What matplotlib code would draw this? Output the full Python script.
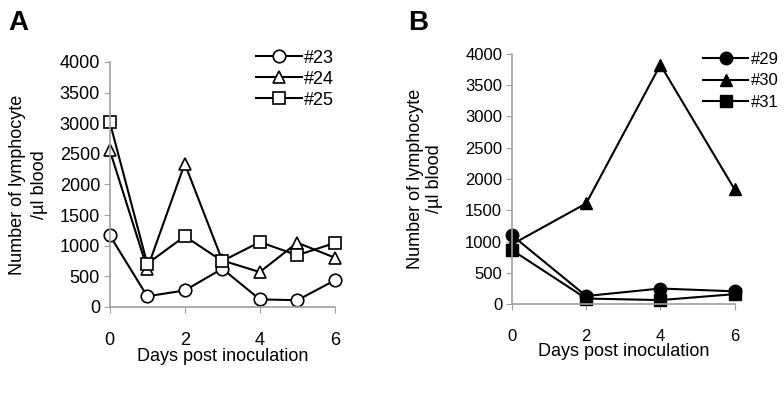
import matplotlib.pyplot as plt

plt.rcParams['font.family'] = ['Liberation Sans', 'DejaVu Sans']

# panel A
days_a = [0, 1, 2, 3, 4, 5, 6]
m23 = [1170, 175, 270, 625, 125, 110, 435]
m24 = [2560, 625, 2340, 760, 570, 1050, 805]
m25 = [3020, 705, 1155, 750, 1060, 845, 1045]

# panel B
days_b = [0, 2, 4, 6]
m29 = [1100, 130, 250, 205]
m30 = [955, 1610, 3825, 1835]
m31 = [865, 90, 65, 160]

ylabel = 'Number of lymphocyte\n/\u00b5l blood'


def style_axes(ax, label_x, fs, lsp):
    for s in ['top', 'right']:
        ax.spines[s].set_visible(False)
    for s in ['left', 'bottom']:
        ax.spines[s].set_color('#a0a0a0')
        ax.spines[s].set_linewidth(1.2)
    ax.tick_params(axis='both', colors='#a0a0a0', labelcolor='black', labelsize=fs, length=4)
    ax.tick_params(axis='x', pad=14)
    ax.tick_params(axis='y', pad=3)
    ax.set_ylim(0, 4000)
    ax.set_xlim(0, 6)
    ax.set_yticks(range(0, 4001, 500))
    ax.set_xticks([0, 2, 4, 6])
    ax.set_xlabel('Days post inoculation', fontsize=13, labelpad=-1)
    ax.set_ylabel(ylabel, fontsize=13, linespacing=lsp)
    ax.yaxis.set_label_coords(label_x, 0.5)
    for t in ax.get_xticklabels() + ax.get_yticklabels():
        t.set_clip_on(False)


fig = plt.figure(figsize=(7.84, 4.05), dpi=100)

axa = fig.add_axes([0.140, 0.242, 0.287, 0.605])
kw = dict(color='black', lw=1.5, ms=9, mfc='white', mec='black', mew=1.2, clip_on=False)
axa.plot(days_a, m23, marker='o', label='#23', **kw)
axa.plot(days_a, m24, marker='^', label='#24', **kw)
axa.plot(days_a, m25, marker='s', label='#25', **kw)
style_axes(axa, -0.275, 13, 1.4)
axa.legend(loc='upper left', bbox_to_anchor=(0.62, 1.08), frameon=False, fontsize=13,
           handlelength=2.5, handletextpad=0.15, labelspacing=0.22, borderaxespad=0)

axb = fig.add_axes([0.653, 0.249, 0.284, 0.618])
kw = dict(color='black', lw=1.5, ms=9, mfc='black', mec='black', clip_on=False)
axb.plot(days_b, m29, marker='o', label='#29', **kw)
axb.plot(days_b, m30, marker='^', label='#30', **kw)
axb.plot(days_b, m31, marker='s', label='#31', **kw)
style_axes(axb, -0.31, 12, 1.15)
axb.legend(loc='upper left', bbox_to_anchor=(0.83, 1.035), frameon=False, fontsize=12,
           handlelength=2.7, handletextpad=0.15, labelspacing=0.4, borderaxespad=0)

fig.text(0.010, 0.925, 'A', fontsize=20, fontweight='bold')
fig.text(0.521, 0.925, 'B', fontsize=20, fontweight='bold')

fig.savefig('out.png', dpi=100)
